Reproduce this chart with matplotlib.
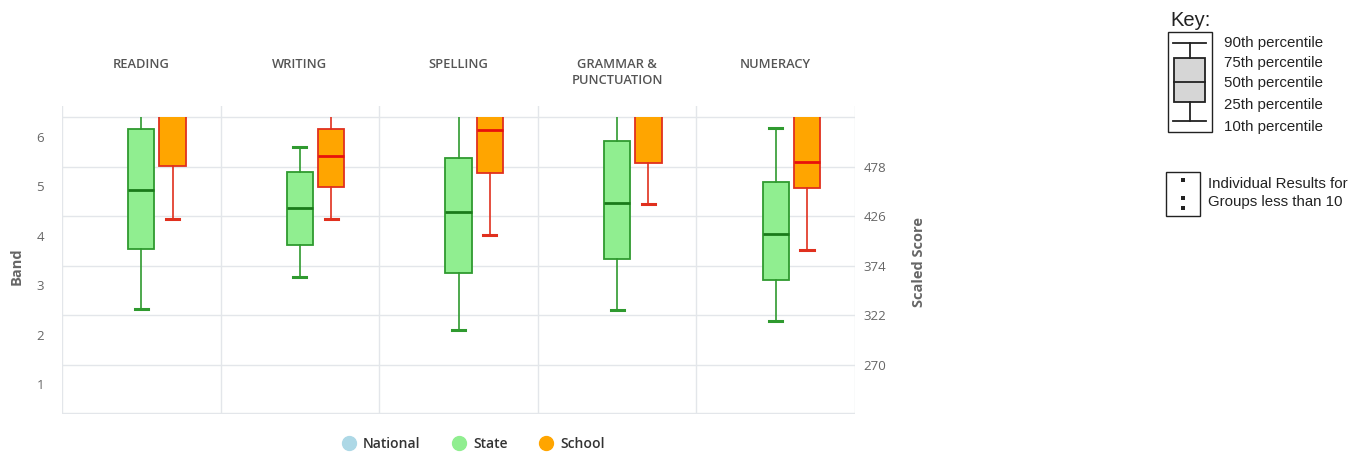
import matplotlib
matplotlib.use("Agg")
import matplotlib.pyplot as plt
from matplotlib.patches import Rectangle
from matplotlib.lines import Line2D
import matplotlib.transforms as mtransforms

# ---------------- data ----------------
categories = ["READING", "WRITING", "SPELLING", "GRAMMAR &\nPUNCTUATION", "NUMERACY"]

state_p10 = [329, 362, 306, 328, 316]
state_p25 = [391, 396, 366, 381, 359]
state_p50 = [453, 434, 430, 440, 407]
state_p75 = [517, 472, 487, 505, 462]
state_p90 = [545, 499, 545, 545, 518]

school_p10 = [423, 423, 406, 439, 390]
school_p25 = [479, 457, 471, 482, 456]
school_p50 = [540, 489, 516, 545, 483]
school_p75 = [550, 517, 545, 550, 545]
school_p90 = [560, 545, 555, 560, 555]

band_ticks = [1, 2, 3, 4, 5, 6]
score_ticks = [270, 322, 374, 426, 478]
grid_scores = [270, 322, 374, 426, 478, 530]
band_width = 52
band_label_base = 197.5

series_names = ["National", "State", "School"]
series_colors = ["#ADD8E6", "#90EE90", "#FFA500"]

# ---------------- figure ----------------
W, H = 1349, 453
fig = plt.figure(figsize=(W / 100, H / 100), dpi=100)

def fx(px):
    return px / W

def fy(py):
    return 1 - py / H

ax_l, ax_r, ax_t, ax_b = 62, 855, 106, 414
ax = fig.add_axes([fx(ax_l), fy(ax_b), fx(ax_r) - fx(ax_l), fy(ax_t) - fy(ax_b)])
ymin, ymax = 218.4, 541.5
clip_top = 530
ax.set_xlim(-0.5, len(categories) - 0.5)
ax.set_ylim(ymin, ymax)
for s in ax.spines.values():
    s.set_visible(False)

grid_c = "#e3e6ea"
for g in grid_scores + [ymin + 0.6]:
    ax.axhline(g, color=grid_c, lw=1.0, zorder=0)
for i in range(len(categories) + 1):
    ax.axvline(i - 0.5, color=grid_c, lw=1.0, zorder=0)

def make_stats(p10, p25, p50, p75, p90):
    return [dict(whislo=a, q1=b, med=c, q3=d, whishi=e, fliers=[])
            for a, b, c, d, e in zip(p10, p25, p50, p75, p90)]

clip_rect = Rectangle((-0.5, ymin), len(categories), clip_top - ymin,
                      transform=ax.transData, visible=False)
ax.add_patch(clip_rect)

offset = 0.197
bw = 0.166
xs = list(range(len(categories)))

def draw(stats, pos, fill, edge, med):
    res = ax.bxp(stats, positions=pos, widths=bw, patch_artist=True,
                 showfliers=False, capwidths=bw * 0.5,
                 boxprops=dict(facecolor=fill, edgecolor=edge, linewidth=1.3),
                 medianprops=dict(color=med, linewidth=2.0),
                 whiskerprops=dict(color=edge, linewidth=1.2),
                 capprops=dict(color=edge, linewidth=2.2),
                 manage_ticks=False)
    for key in ("boxes", "medians", "whiskers", "caps"):
        for art in res[key]:
            art.set_clip_path(clip_rect)
            art.set_zorder(3)

draw(make_stats(state_p10, state_p25, state_p50, state_p75, state_p90),
     xs, "#90EE90", "#2f9a2f", "#1a7a1a")
draw(make_stats(school_p10, school_p25, school_p50, school_p75, school_p90),
     [x + offset for x in xs], "#FFA500", "#E0301E", "#E8100C")

# left band ticks
ax.set_xticks([])
ax.set_yticks([band_label_base + band_width * b for b in band_ticks])
ax.set_yticklabels([str(b) for b in band_ticks])
ax.tick_params(axis="y", length=0, pad=13, labelsize=9.5, labelcolor="#666666")
for t in ax.get_yticklabels():
    t.set_fontfamily("Open Sans")

ax2 = ax.twinx()
ax2.set_ylim(ymin, ymax)
for s in ax2.spines.values():
    s.set_visible(False)
ax2.set_yticks(score_ticks)
ax2.set_yticklabels([str(v) for v in score_ticks])
ax2.tick_params(axis="y", length=0, pad=6, labelsize=9.5, labelcolor="#666666")
for t in ax2.get_yticklabels():
    t.set_fontfamily("Open Sans")

fig.text(fx(17), fy(266), "Band", rotation=90, ha="center", va="center",
         fontsize=10.5, fontweight="bold", color="#666666", family="Open Sans")
fig.text(fx(919), fy(262), "Scaled Score", rotation=90, ha="center", va="center",
         fontsize=10.5, fontweight="bold", color="#666666", family="Open Sans")

# category titles
trans = mtransforms.blended_transform_factory(ax.transData, fig.transFigure)
for i, c in enumerate(categories):
    ax.text(i, fy(58), c, transform=trans, ha="center", va="top",
            fontsize=9.3, fontweight="semibold", color="#555555",
            family="Open Sans", linespacing=1.25)

# legend
handles = [Line2D([], [], marker="o", linestyle="none", markersize=10,
                  markerfacecolor=c, markeredgecolor=c) for c in series_colors]
leg = fig.legend(handles, series_names, loc="center", bbox_to_anchor=(fx(474), fy(444)),
                 ncol=3, frameon=False, handlelength=0.8, handletextpad=0.6,
                 columnspacing=2.4, prop=dict(family="Open Sans", size=10, weight="semibold"))
for t in leg.get_texts():
    t.set_color("#333333")

# ---------------- key ----------------
kc = "#222222"
kf = "Liberation Sans"
fig.text(fx(1191), fy(20), "Key:", ha="center", va="center", fontsize=14.5, family=kf, color=kc)

def frect(x0, y0, x1, y1, **kw):
    fig.add_artist(Rectangle((fx(x0), fy(y1)), fx(x1) - fx(x0), fy(y0) - fy(y1),
                             transform=fig.transFigure, **kw))

def fline(x0, y0, x1, y1, lw=1.3):
    fig.add_artist(Line2D([fx(x0), fx(x1)], [fy(y0), fy(y1)], transform=fig.transFigure,
                          color=kc, lw=lw))

frect(1168, 32, 1212, 132, facecolor="white", edgecolor=kc, lw=1.0)
fline(1190, 43, 1190, 58)
fline(1190, 102, 1190, 121)
fline(1173, 43, 1206, 43)
fline(1173, 121, 1206, 121)
frect(1174, 58, 1205, 102, facecolor="#d6d6d6", edgecolor=kc, lw=1.3)
fline(1174, 82, 1205, 82)

key_labels = ["90th percentile", "75th percentile", "50th percentile",
              "25th percentile", "10th percentile"]
key_y = [43, 63, 83, 105, 127]
for lab, yy in zip(key_labels, key_y):
    fig.text(fx(1224), fy(yy), lab, ha="left", va="center", fontsize=10.8, family=kf, color=kc)

frect(1166, 172, 1200, 216, facecolor="white", edgecolor=kc, lw=1.0)
for yy in (180, 198, 208):
    frect(1181, yy - 2, 1185, yy + 2, facecolor=kc, edgecolor="none")
fig.text(fx(1208), fy(184), "Individual Results for", ha="left", va="center",
         fontsize=10.8, family=kf, color=kc)
fig.text(fx(1208), fy(202), "Groups less than 10", ha="left", va="center",
         fontsize=10.8, family=kf, color=kc)

fig.savefig("out.png", dpi=100)
